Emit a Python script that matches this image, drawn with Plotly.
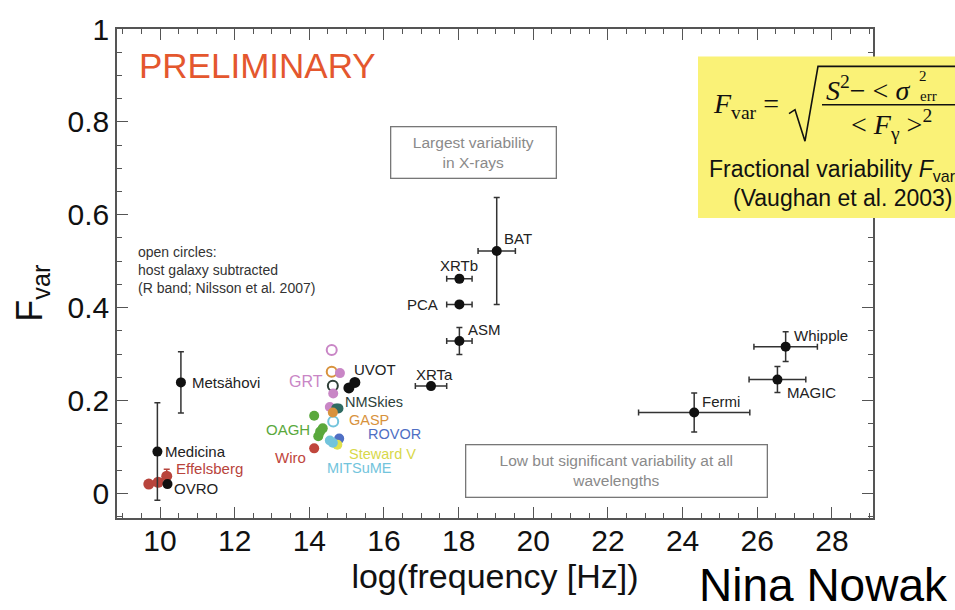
import plotly.graph_objects as go

# ---------------- data ----------------
# radio
radio_names = ["Metsähovi", "Medicina", "OVRO"]
radio_x = [10.56, 9.93, 10.2]
radio_y = [0.239, 0.090, 0.020]
radio_yerr = [0.066, 0.105, 0.0]

effelsberg_x = [9.70, 9.95, 10.18]
effelsberg_y = [0.020, 0.024, 0.037]
effelsberg_yerr = [0.0, 0.0, 0.015]

# optical (filled = observed, open = host galaxy subtracted)
opt_names = ["GRT", "NMSkies", "GASP", "OAGH", "ROVOR", "Steward V", "MITSuME", "Wiro"]
opt_colors = ["#c986c6", "#2f6b62", "#d8923c", "#5aa83c", "#4f6fc4", "#e0e04e", "#72c4dc", "#c0463c"]
opt_x = [[14.82, 14.55, 14.64], [14.72, 14.78], [14.63], [14.13, 14.24, 14.29, 14.36],
         [14.80], [14.75], [14.55, 14.63], [14.13]]
opt_y = [[0.259, 0.186, 0.215], [0.183, 0.183], [0.174], [0.167, 0.123, 0.133, 0.140],
         [0.118], [0.105], [0.114, 0.109], [0.097]]
open_names = ["GRT", "GASP", "NMSkies", "MITSuME"]
open_colors = ["#c986c6", "#d8923c", "#2f3f38", "#72c4dc"]
open_x = [14.60, 14.60, 14.63, 14.64]
open_y = [0.309, 0.262, 0.232, 0.155]

uvot_x = [15.06, 15.22]
uvot_y = [0.227, 0.239]

# X-rays
xray_names = ["XRTa", "ASM", "PCA", "XRTb", "BAT"]
xray_x = [17.26, 18.02, 18.02, 18.02, 19.02]
xray_y = [0.231, 0.328, 0.407, 0.462, 0.522]
xray_xerr = [0.42, 0.34, 0.34, 0.34, 0.50]
xray_yerr = [0.005, 0.029, 0.004, 0.007, 0.115]

# gamma rays
gamma_names = ["Fermi", "MAGIC", "Whipple"]
gamma_x = [24.31, 26.54, 26.76]
gamma_y = [0.174, 0.245, 0.316]
gamma_xerr = [1.49, 0.76, 0.85]
gamma_yerr = [0.042, 0.028, 0.032]

x_ticks = [10, 12, 14, 16, 18, 20, 22, 24, 26, 28]
y_ticks = [0, 0.2, 0.4, 0.6, 0.8, 1]

# ---------------- layout helpers ----------------
W, H = 955, 610
L, R, T, B = 117, 873, 21, 518


def pxx(p):
    return (p - L) / (R - L)


def pxy(p):
    return (B - p) / (B - T)


SANS = "Liberation Sans, Arial, Helvetica, sans-serif"
SERIF = "Liberation Serif, Times New Roman, serif"
EB = dict(color="#333333", thickness=1.5, width=3)

fig = go.Figure()

# Effelsberg
fig.add_trace(go.Scatter(x=effelsberg_x, y=effelsberg_y, mode="lines+markers",
                         line=dict(color="#b8443c", width=3),
                         marker=dict(color="#b8443c", size=11),
                         error_y=dict(type="data", array=effelsberg_yerr, color="#b8443c", thickness=1.5, width=3),
                         showlegend=False))
# radio
fig.add_trace(go.Scatter(x=radio_x, y=radio_y, mode="markers",
                         marker=dict(color="#111111", size=10),
                         error_y=dict(type="data", array=radio_yerr, **EB),
                         showlegend=False))
# optical open
fig.add_trace(go.Scatter(x=open_x, y=open_y, mode="markers",
                         marker=dict(color=open_colors, size=10, symbol="circle-open",
                                     line=dict(width=2)),
                         showlegend=False))
# optical filled
for name, c, xs, ys in zip(opt_names, opt_colors, opt_x, opt_y):
    fig.add_trace(go.Scatter(x=xs, y=ys, mode="markers", name=name,
                             marker=dict(color=c, size=10), showlegend=False))
# UVOT
fig.add_trace(go.Scatter(x=uvot_x, y=uvot_y, mode="markers",
                         marker=dict(color="#111111", size=11), showlegend=False))
# X-ray
fig.add_trace(go.Scatter(x=xray_x, y=xray_y, mode="markers",
                         marker=dict(color="#111111", size=10),
                         error_x=dict(type="data", array=xray_xerr, **EB),
                         error_y=dict(type="data", array=xray_yerr, **EB),
                         showlegend=False))
# gamma
fig.add_trace(go.Scatter(x=gamma_x, y=gamma_y, mode="markers",
                         marker=dict(color="#111111", size=10),
                         error_x=dict(type="data", array=gamma_xerr, **EB),
                         error_y=dict(type="data", array=gamma_yerr, **EB),
                         showlegend=False))

ann = []


def lab(text, x, y, dx, dy, anchor="left", color="#222222", size=15):
    ann.append(dict(x=x, y=y, xref="x", yref="y", text=text, showarrow=False,
                    xanchor=anchor, yanchor="middle", xshift=dx, yshift=dy,
                    font=dict(family=SANS, size=size, color=color)))


# radio labels
lab(radio_names[0], radio_x[0], radio_y[0], 9, 0)
lab(radio_names[1], radio_x[1], radio_y[1], 6, 0)
lab(radio_names[2], radio_x[2], radio_y[2], 5, -4)
lab("Effelsberg", effelsberg_x[2], effelsberg_y[2], 7, 8, color="#b8443c")

# optical labels
lab("GRT", opt_x[0][0], opt_y[0][0], -15, -8, anchor="right", color=opt_colors[0], size=16)
lab("UVOT", uvot_x[1], uvot_y[1], -3, 13, size=15)
lab("NMSkies", opt_x[1][0], opt_y[1][0], 7, 6, color="#2c3f3a", size=14.5)
lab("GASP", opt_x[2][0], opt_y[2][0], 14, -7, color=opt_colors[2], size=14.5)
lab("OAGH", opt_x[3][1], opt_y[3][1], -6, 7, anchor="right", color=opt_colors[3], size=15)
lab("ROVOR", opt_x[4][0], opt_y[4][0], 27, 5, color=opt_colors[4], size=14.5)
lab("Steward V", opt_x[5][0], opt_y[5][0], 10, -9, color="#d8d84a", size=14.5)
lab("MITSuME", opt_x[6][1], opt_y[6][1], -8, -25, color=opt_colors[6], size=14.5)
lab("Wiro", opt_x[7][0], opt_y[7][0], -6, -9, anchor="right", color=opt_colors[7], size=15)

# X-ray labels
lab("XRTa", xray_x[0], xray_y[0], 3, 12, anchor="center")
lab("ASM", xray_x[1], xray_y[1], 7, 12)
lab("PCA", xray_x[2], xray_y[2], -19, 0, anchor="right")
lab("XRTb", xray_x[3], xray_y[3], 0, 13, anchor="center")
lab("BAT", xray_x[4], xray_y[4], 5, 12)

# gamma labels
lab("Fermi", gamma_x[0], gamma_y[0], 6, 11)
lab("MAGIC", gamma_x[1], gamma_y[1], 8, -13)
lab("Whipple", gamma_x[2], gamma_y[2], 6, 11)


def ptext(text, xp, yp, size, color="#111111", family=SANS, anchor="left", **kw):
    ann.append(dict(x=pxx(xp), y=pxy(yp), xref="paper", yref="paper", text=text,
                    showarrow=False, xanchor=anchor, yanchor="middle",
                    font=dict(family=family, size=size, color=color), **kw))


# free text
ptext("PRELIMINARY", 137, 58, 35, color="#e4572e")
ptext("open circles:<br>host galaxy subtracted<br>(R band; Nilsson et al. 2007)", 136, 266, 14,
      color="#333333", align="left")

# boxed notes
for text, x0, x1, y0, y1 in [("Largest variability<br>in X-rays", 390, 557, 120, 173),
                             ("Low but significant variability at all<br>wavelengths", 465, 768, 443, 497)]:
    ann.append(dict(x=pxx((x0 + x1) / 2), y=pxy((y0 + y1) / 2), xref="paper", yref="paper",
                    text=text, showarrow=False, xanchor="center", yanchor="middle",
                    width=x1 - x0 - 3, height=y1 - y0 - 3, align="center",
                    bordercolor="#777777", borderwidth=1.3, borderpad=0,
                    font=dict(family=SANS, size=15.5, color="#8a8a8a")))

# y axis title
ann.append(dict(x=pxx(32), y=pxy(290), xref="paper", yref="paper", text="F<sub>var</sub>",
                showarrow=False, textangle=-90, xanchor="center", yanchor="middle",
                font=dict(family=SANS, size=36, color="#111111")))

# yellow formula box
shapes = [dict(type="rect", xref="paper", yref="paper", x0=pxx(698), x1=pxx(990),
               y0=pxy(213), y1=pxy(49), fillcolor="#faf277", line=dict(width=0), layer="above")]
sq = [(789, 107), (795, 103), (805, 135), (818, 59), (990, 59)]
path = "M " + " L ".join(f"{pxx(a):.5f},{pxy(b):.5f}" for a, b in sq)
shapes.append(dict(type="path", xref="paper", yref="paper", path=path,
                   line=dict(color="#111111", width=1.6), layer="above"))
shapes.append(dict(type="line", xref="paper", yref="paper", x0=pxx(822), x1=pxx(990),
                   y0=pxy(98), y1=pxy(98), line=dict(color="#111111", width=1.3), layer="above"))

ptext("<i>F</i><sub>var</sub> =", 711, 99, 28, family=SERIF)
ptext("<i>S</i><sup>2</sup>− < <i>σ</i>", 824, 81, 28, family=SERIF)
ptext("2", 917, 69, 15, family=SERIF)
ptext("err", 918, 89, 15, family=SERIF)
ptext("< <i>F</i><sub>γ</sub> ><sup>2</sup>", 849, 118, 28, family=SERIF)
ptext("Fractional variability <i>F</i><sub>var</sub>", 707, 165, 23)
ptext("(Vaughan et al. 2003)", 731, 193, 23)

# author
ptext("Nina Nowak", 697, 586, 46, color="#000000")

axis_common = dict(showline=True, linecolor="#555555", linewidth=1.5, mirror="ticks",
                   ticks="inside", tickcolor="#555555", tickwidth=1.3, ticklen=11,
                   showgrid=False, zeroline=False,
                   tickfont=dict(family=SANS, size=30, color="#111111"))

fig.update_layout(
    width=W, height=H,
    margin=dict(l=L, r=W - R, t=T, b=H - B, pad=0),
    paper_bgcolor="white", plot_bgcolor="white",
    xaxis=dict(range=[8.848, 29.1], tickvals=x_ticks, ticklabelstandoff=-5,
               minor=dict(dtick=0.5, tick0=0, ticks="inside", ticklen=5, tickcolor="#555555", showgrid=False),
               title=dict(text="log(frequency [Hz])", font=dict(family=SANS, size=34, color="#111111"),
                          standoff=6),
               **axis_common),
    yaxis=dict(range=[-0.053, 1.0], tickvals=y_ticks, ticktext=["0", "0.2", "0.4", "0.6", "0.8", "1"],
               minor=dict(dtick=0.05, tick0=0, ticks="inside", ticklen=5, tickcolor="#555555", showgrid=False),
               **axis_common),
    annotations=ann,
    shapes=shapes,
)

fig.write_html("out.html")
